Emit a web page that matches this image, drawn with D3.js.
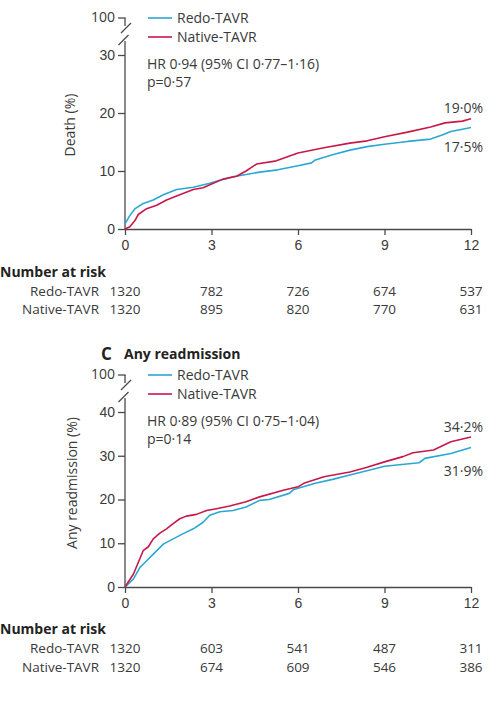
<!DOCTYPE html>
<html>
<head>
<meta charset="utf-8">
<script src="https://cdn.jsdelivr.net/npm/d3@7"></script>
<style>
  html, body { margin: 0; padding: 0; background: #fff; }
  svg { display: block; font-family: "Open Sans", "Noto Sans", sans-serif; }
</style>
</head>
<body>
<svg id="chart" width="498" height="703"></svg>
<script>
// ---------- data ----------
const months = [0, 3, 6, 9, 12];
const groups = ["Redo-TAVR", "Native-TAVR"];

// Death (%) — [month, cumulative %]
const deathRedo = [[0,0.9],[0.17,2.35],[0.35,3.5],[0.63,4.4],[0.98,5.0],[1.33,5.9],[1.79,6.8],[2.37,7.2],[2.94,7.9],[3.29,8.4],[3.75,9.0],[4.2,9.4],[4.67,9.8],[5.3,10.2],[6.0,10.9],[6.47,11.4],[6.6,11.9],[7.2,12.8],[7.8,13.6],[8.4,14.2],[9.0,14.6],[9.8,15.1],[10.6,15.5],[11.0,16.2],[11.3,16.8],[11.7,17.2],[12,17.5]];
const deathNative = [[0,0],[0.17,0.4],[0.35,1.5],[0.46,2.5],[0.75,3.5],[1.1,4.1],[1.44,5.0],[1.9,5.9],[2.37,6.8],[2.71,7.1],[3.06,7.9],[3.4,8.6],[3.87,9.1],[4.2,10.0],[4.56,11.2],[5.2,11.7],[6.0,13.1],[6.9,14.0],[7.8,14.8],[8.4,15.2],[9.0,15.9],[9.8,16.7],[10.6,17.6],[11.1,18.3],[11.7,18.6],[12,19.0]];

// Any readmission (%)
const readmRedo = [[0,0],[0.29,1.8],[0.52,4.5],[0.69,5.6],[0.98,7.5],[1.33,9.8],[1.67,11.0],[2.02,12.2],[2.37,13.3],[2.71,14.8],[2.94,16.4],[3.29,17.2],[3.75,17.5],[4.2,18.3],[4.67,19.8],[5.0,20.0],[5.7,21.4],[5.85,22.3],[6.6,23.7],[7.2,24.6],[7.8,25.6],[8.7,27.1],[9.0,27.6],[10.2,28.4],[10.4,29.4],[11.3,30.5],[12,31.9]];
const readmNative = [[0,0],[0.29,2.9],[0.46,5.6],[0.63,8.3],[0.81,9.2],[0.98,11.0],[1.21,12.3],[1.44,13.3],[1.67,14.5],[1.9,15.6],[2.13,16.2],[2.48,16.6],[2.83,17.5],[3.17,17.9],[3.63,18.5],[4.2,19.5],[4.67,20.6],[5.49,22.1],[6.0,22.9],[6.2,23.7],[6.9,25.2],[7.8,26.3],[8.37,27.3],[9.0,28.6],[9.64,29.8],[9.99,30.7],[10.7,31.3],[11.3,33.2],[12,34.3]];

// Numbers at risk
const deathRiskRedo = [1320, 782, 726, 674, 537];
const deathRiskNative = [1320, 895, 820, 770, 631];
const readmRiskRedo = [1320, 603, 541, 487, 311];
const readmRiskNative = [1320, 674, 609, 546, 386];

const deathTicks = [0, 10, 20, 30];
const readmTicks = [0, 10, 20, 30, 40];
const breakTick = 100;

const deathEnd = ["19·0%", "17·5%"];
const readmEnd = ["34·2%", "31·9%"];
const deathHR = ["HR 0·94 (95% CI 0·77–1·16)", "p=0·57"];
const readmHR = ["HR 0·89 (95% CI 0·75–1·04)", "p=0·14"];

// ---------- styles ----------
const colRedo = "#2aa8d3";
const colNative = "#c8184a";
const textCol = "#3a3a3a";
const axisCol = "#4a4a4a";
const fs = 14;
const fsRisk = 13.5;

const svg = d3.select("#chart");
const x = d3.scaleLinear().domain([0, 12]).range([125, 471]);

function panel(o) {
  const g = svg.append("g");
  const y = d3.scaleLinear().domain([0, o.ymax]).range([o.y0, o.yTop]);
  const y100 = y(o.ymax) - 37;

  // x axis
  const xa = g.append("g").attr("transform", `translate(0,${y(0)})`)
    .call(d3.axisBottom(x).tickValues(months).tickSize(6).tickSizeOuter(0).tickPadding(5));
  xa.select(".domain").attr("stroke", axisCol).attr("stroke-width", 1.3);
  xa.selectAll(".tick line").attr("stroke", axisCol).attr("stroke-width", 1.3);
  xa.selectAll(".tick text").attr("font-size", fs).attr("fill", textCol).attr("font-family", null);

  // y axis
  const ya = g.append("g").attr("transform", `translate(${x(0)},0)`)
    .call(d3.axisLeft(y).tickValues(o.ticks).tickSize(7).tickPadding(3));
  ya.select(".domain").remove();
  ya.selectAll(".tick line").attr("stroke", axisCol).attr("stroke-width", 1.3);
  ya.selectAll(".tick text").attr("font-size", fs).attr("fill", textCol).attr("font-family", null);

  // axis segments with break
  const lowTop = y(o.ymax) - 14;
  g.append("line").attr("x1", x(0)).attr("x2", x(0)).attr("y1", y(0) + 0.6).attr("y2", lowTop)
    .attr("stroke", axisCol).attr("stroke-width", 1.3);
  g.append("line").attr("x1", x(0)).attr("x2", x(0)).attr("y1", y100).attr("y2", y100 + 8)
    .attr("stroke", axisCol).attr("stroke-width", 1.3);
  g.append("line").attr("x1", x(0) - 7).attr("x2", x(0) + 0.6).attr("y1", y100).attr("y2", y100)
    .attr("stroke", axisCol).attr("stroke-width", 1.3);
  g.append("text").attr("x", x(0) - 10).attr("y", y100).attr("dy", "0.32em")
    .attr("text-anchor", "end").attr("font-size", fs).attr("fill", textCol).text(breakTick);
  [[x(0) + 1, y100 + 10], [x(0) - 1.5, lowTop - 1]].forEach(([cx, cy]) => {
    g.append("line").attr("x1", cx - 5).attr("y1", cy + 5).attr("x2", cx + 5).attr("y2", cy - 5)
      .attr("stroke", axisCol).attr("stroke-width", 1.3);
  });

  // y label
  g.append("text").attr("transform", `translate(${o.labX},${o.labY}) rotate(-90)`)
    .attr("text-anchor", "middle").attr("font-size", fs).attr("fill", textCol).text(o.ylabel);

  // curves
  const line = d3.line().x(d => x(d[0])).y(d => y(d[1])).curve(d3.curveLinear);
  g.append("path").datum(o.redo).attr("d", line).attr("fill", "none")
    .attr("stroke", colRedo).attr("stroke-width", 1.6).attr("stroke-linejoin", "round");
  g.append("path").datum(o.native).attr("d", line).attr("fill", "none")
    .attr("stroke", colNative).attr("stroke-width", 1.6).attr("stroke-linejoin", "round");

  // legend
  [colRedo, colNative].forEach((c, i) => {
    const ly = y100 + i * 19;
    g.append("line").attr("x1", 148).attr("x2", 172).attr("y1", ly).attr("y2", ly)
      .attr("stroke", c).attr("stroke-width", 1.6);
    g.append("text").attr("x", 177).attr("y", ly).attr("dy", "0.36em")
      .attr("font-size", fs).attr("fill", textCol).text(groups[i]);
  });

  // HR text
  g.append("text").attr("x", 147).attr("y", y100 + 51).attr("font-size", fs).attr("fill", textCol).text(o.hr[0]);
  g.append("text").attr("x", 147).attr("y", y100 + 69).attr("font-size", fs).attr("fill", textCol).text(o.hr[1]);

  // end labels
  g.append("text").attr("x", 483).attr("y", o.endY[0]).attr("text-anchor", "end")
    .attr("font-size", fs).attr("fill", textCol).text(o.end[0]);
  g.append("text").attr("x", 483).attr("y", o.endY[1]).attr("text-anchor", "end")
    .attr("font-size", fs).attr("fill", textCol).text(o.end[1]);

  // number at risk
  g.append("text").attr("x", 0).attr("y", o.riskY[0]).attr("font-size", fs).attr("font-weight", 700)
    .attr("fill", "#222").text("Number at risk");
  [o.riskRedo, o.riskNative].forEach((arr, i) => {
    const ry = o.riskY[i + 1];
    g.append("text").attr("x", 99).attr("y", ry).attr("text-anchor", "end")
      .attr("font-size", fsRisk).attr("fill", textCol).text(groups[i]);
    g.selectAll(null).data(arr).enter().append("text")
      .attr("x", (d, j) => x(months[j])).attr("y", ry).attr("text-anchor", "middle")
      .attr("font-size", fsRisk).attr("fill", textCol).text(d => d);
  });
}

panel({
  ymax: 30, y0: 229, yTop: 55, ticks: deathTicks, ylabel: "Death (%)", labX: 75, labY: 125,
  redo: deathRedo, native: deathNative, hr: deathHR, end: deathEnd, endY: [113, 152],
  riskY: [277, 296, 314], riskRedo: deathRiskRedo, riskNative: deathRiskNative
});

// panel title C
svg.append("text").attr("x", 101).attr("y", 360).attr("font-size", 17).attr("font-weight", 700)
  .attr("fill", "#222").text("C");
svg.append("text").attr("x", 124).attr("y", 359).attr("font-size", fs).attr("font-weight", 700)
  .attr("fill", "#222").text("Any readmission");

panel({
  ymax: 40, y0: 587, yTop: 412, ticks: readmTicks, ylabel: "Any readmission (%)", labX: 77, labY: 483,
  redo: readmRedo, native: readmNative, hr: readmHR, end: readmEnd, endY: [432, 476],
  riskY: [634, 653, 672], riskRedo: readmRiskRedo, riskNative: readmRiskNative
});
</script>
</body>
</html>
